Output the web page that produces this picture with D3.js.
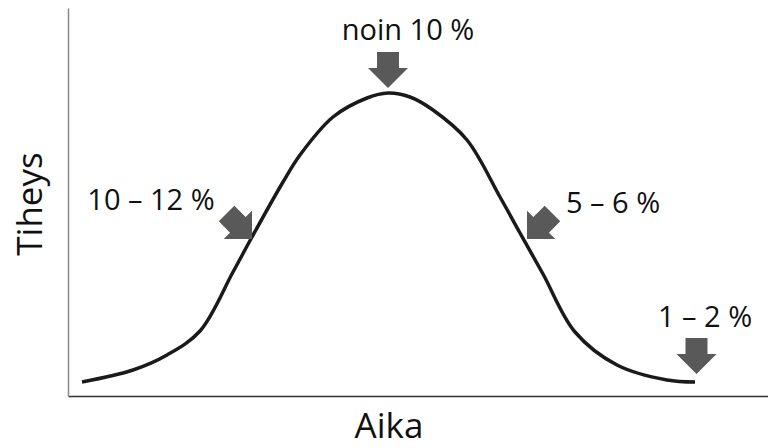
<!DOCTYPE html>
<html>
<head>
<meta charset="utf-8">
<script src="https://cdn.jsdelivr.net/npm/d3@7"></script>
<style>
  body { margin: 0; background: #fff; }
  text { font-family: "Open Sans", sans-serif; fill: #111; }
</style>
</head>
<body>
<div id="chart"></div>
<script>
// curve points (Aika, Tiheys)
var aika   = [14, 65, 99, 132, 165, 184, 215, 232, 265, 299, 320, 342, 365, 399, 432, 452, 475, 507, 549, 599, 627];
var tiheys = [14, 26, 41, 65, 124, 159, 214, 241, 279, 298, 303, 299, 286, 256, 199, 163, 122, 64, 31, 16, 14];

// callouts: label, where the arrow points, direction
var labels    = ["noin 10 %", "10 – 12 %", "5 – 6 %", "1 – 2 %"];
var arrowAika = [320, 184, 459, 628.5];
var arrowTih  = [308, 157, 157, 22];
var arrowRot  = [0, -45, 45, 0];

var svgWidth = 768;
var svgHeight = 448;

var margin = { top: 8, right: 0, bottom: 52, left: 68 };
var width = svgWidth - margin.left - margin.right;
var height = svgHeight - margin.top - margin.bottom;

var svg = d3.select("#chart")
  .append("svg")
  .attr("width", svgWidth)
  .attr("height", svgHeight);

var chartGroup = svg.append("g")
  .attr("transform", `translate(${margin.left}, ${margin.top})`);

var xScale = d3.scaleLinear().domain([0, 700]).range([0, width]);
var yScale = d3.scaleLinear().domain([0, 388]).range([height, 0]);

// axes, no ticks
chartGroup.append("g")
  .attr("transform", `translate(0, ${height})`)
  .call(d3.axisBottom(xScale).tickValues([]).tickSizeOuter(0))
  .select(".domain").attr("stroke", "#333").attr("stroke-width", 1.5);

chartGroup.append("g")
  .call(d3.axisLeft(yScale).tickValues([]).tickSizeOuter(0))
  .select(".domain").attr("stroke", "#8a8a8a").attr("stroke-width", 1.5);

// bell curve
var points = aika.map((a, i) => [a, tiheys[i]]);
var line = d3.line()
  .x(d => xScale(d[0]))
  .y(d => yScale(d[1]))
  .curve(d3.curveCatmullRom);

chartGroup.append("path")
  .datum(points)
  .attr("d", line)
  .attr("fill", "none")
  .attr("stroke", "#1a1a1a")
  .attr("stroke-width", 3.5);

// block arrow, tip at origin pointing down
var arrowPath = "M0,0 L-20,-20 L-11,-20 L-11,-36 L11,-36 L11,-20 L20,-20 Z";

chartGroup.selectAll(".arrow")
  .data(labels)
  .enter()
  .append("path")
  .attr("class", "arrow")
  .attr("d", arrowPath)
  .attr("fill", "#595959")
  .attr("transform", (d, i) => `translate(${xScale(arrowAika[i])}, ${yScale(arrowTih[i])}) rotate(${arrowRot[i]})`);

// label positions relative to arrow tips
var labelDx = [20, -101, 86, 8.5];
var labelDy = [-48, -29, -26, -47];

chartGroup.selectAll(".lbl")
  .data(labels)
  .enter()
  .append("text")
  .attr("class", "lbl")
  .attr("x", (d, i) => xScale(arrowAika[i]) + labelDx[i])
  .attr("y", (d, i) => yScale(arrowTih[i]) + labelDy[i])
  .attr("text-anchor", "middle")
  .style("font-size", "29px")
  .text(d => d);

// axis titles
svg.append("text")
  .attr("x", 389)
  .attr("y", 438)
  .attr("text-anchor", "middle")
  .style("font-size", "35px")
  .text("Aika");

svg.append("text")
  .attr("transform", "translate(42, 204) rotate(-90)")
  .attr("text-anchor", "middle")
  .style("font-size", "35px")
  .text("Tiheys");
</script>
</body>
</html>
